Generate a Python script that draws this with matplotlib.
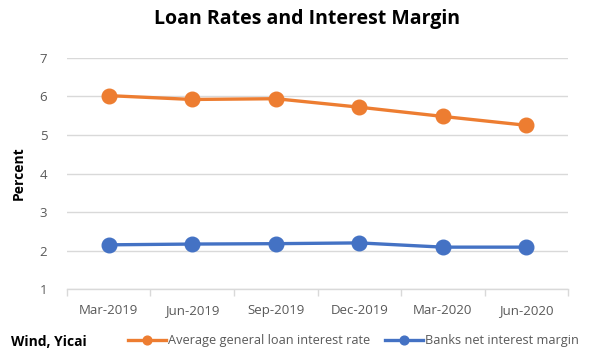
import matplotlib.pyplot as plt
from matplotlib import rc

rc("font", family=["Open Sans", "DejaVu Sans"], size=9)

quarters = ["Mar-2019", "Jun-2019", "Sep-2019", "Dec-2019", "Mar-2020", "Jun-2020"]
loan_rate = [6.02, 5.92, 5.94, 5.72, 5.48, 5.25]
net_margin = [2.15, 2.17, 2.18, 2.20, 2.09, 2.09]

ORANGE = "#ED7D31"
BLUE = "#4472C4"
GRID = "#D9D9D9"
TEXT = "#595959"

fig = plt.figure(figsize=(6.13, 3.57), dpi=100)
ax = fig.add_axes([0.109, 0.190, 0.818, 0.648])

x = range(len(quarters))
ax.plot(x, loan_rate, color=ORANGE, lw=2.4, marker="o", ms=10.5,
        label="Average general loan interest rate")
ax.plot(x, net_margin, color=BLUE, lw=2.4, marker="o", ms=10.5,
        label="Banks net interest margin")

ax.set_ylim(1, 7)
ax.set_yticks(range(1, 8))
ax.set_xlim(-0.5, len(quarters) - 0.5)
ax.set_xticks(list(x))
ax.set_xticklabels(quarters)
ax.set_xticks([i - 0.5 for i in range(len(quarters) + 1)], minor=True)
ax.grid(axis="y", color=GRID, lw=1)
ax.set_axisbelow(True)

for side in ["top", "right", "left"]:
    ax.spines[side].set_visible(False)
ax.spines["bottom"].set_color(GRID)
ax.spines["bottom"].set_linewidth(1)
ax.tick_params(axis="x", which="major", length=0, pad=11, colors=TEXT, labelsize=9.5)
ax.tick_params(axis="x", which="minor", length=5, color=GRID, width=1)
ax.tick_params(axis="y", length=0, pad=14, colors=TEXT, labelsize=9.5)

ax.set_ylabel("Percent", fontsize=10, fontweight="bold", labelpad=10)
fig.suptitle("Loan Rates and Interest Margin", x=0.5, y=0.975,
             fontsize=14, fontweight="bold")

fig.text(0.018, 0.032, "Wind, Yicai", fontsize=10, fontweight="bold")
fig.legend(loc="lower left", bbox_to_anchor=(0.19, -0.005), ncol=2, frameon=False,
           fontsize=9.2, labelcolor=TEXT, handlelength=3.0, handletextpad=0.1,
           columnspacing=1.2, markerscale=0.6)

fig.savefig("out.png", dpi=100)
